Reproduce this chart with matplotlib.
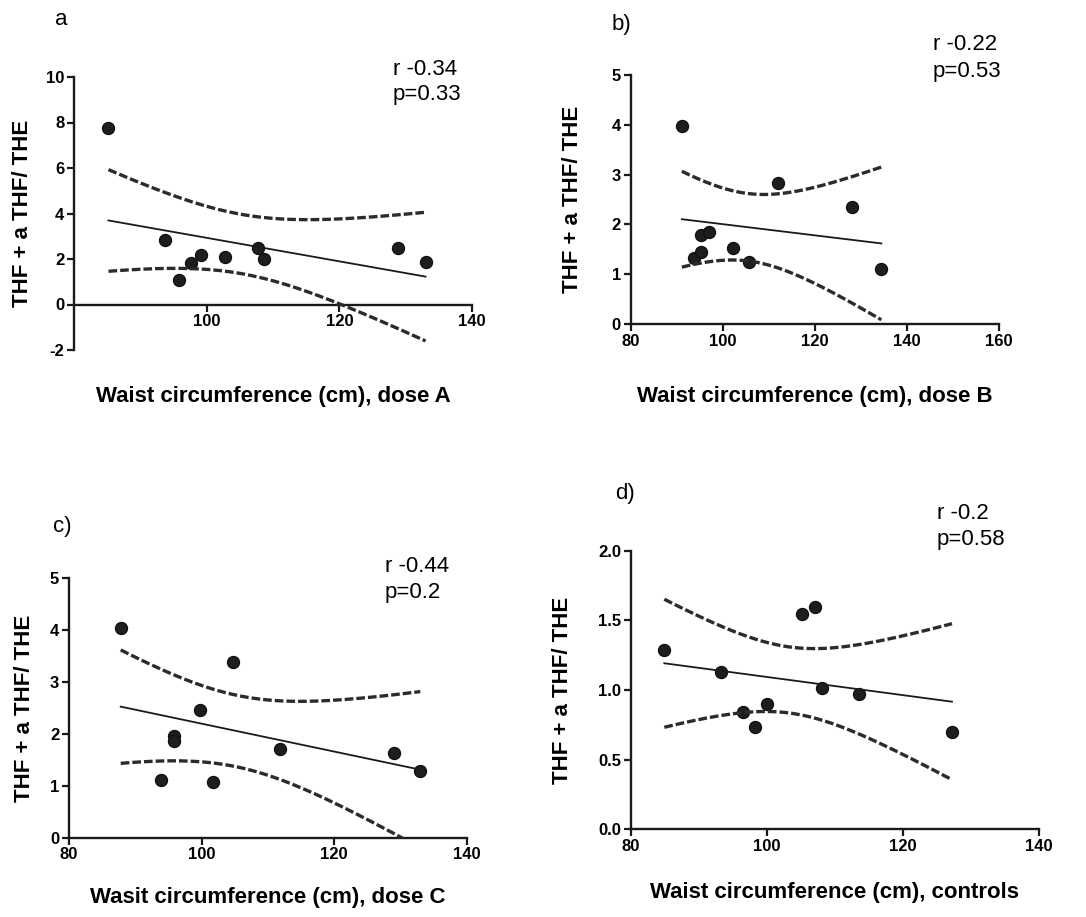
import matplotlib
matplotlib.use("Agg")
import matplotlib.pyplot as plt
import numpy as np

# --- data ---
# a) dose A
xa = [85.2, 93.7, 95.8, 97.7, 99.1, 102.7, 107.7, 108.7, 128.9, 133.0]
ya = [7.77, 2.83, 1.07, 1.83, 2.17, 2.08, 2.49, 1.98, 2.49, 1.88]
# b) dose B
xb = [91.1, 93.8, 95.3, 95.3, 97.0, 102.1, 105.6, 112.0, 128.1, 134.4]
yb = [3.98, 1.32, 1.45, 1.78, 1.85, 1.52, 1.25, 2.84, 2.34, 1.10]
# c) dose C
xc = [87.8, 93.9, 95.8, 95.8, 99.7, 101.8, 104.7, 111.8, 129.0, 133.0]
yc = [4.04, 1.12, 1.96, 1.87, 2.47, 1.08, 3.38, 1.71, 1.63, 1.29]
# d) controls
xd = [84.9, 93.3, 96.4, 98.2, 100.0, 105.1, 107.1, 108.1, 113.5, 127.2]
yd = [1.287, 1.127, 0.840, 0.737, 0.900, 1.543, 1.598, 1.017, 0.969, 0.696]

panel_tags = ["a", "b)", "c)", "d)"]
r_texts = ["r -0.34", "r -0.22", "r -0.44", "r -0.2"]
p_texts = ["p=0.33", "p=0.53", "p=0.2", "p=0.58"]
x_titles = ["Waist circumference (cm), dose A",
            "Waist circumference (cm), dose B",
            "Wasit circumference (cm), dose C",
            "Waist circumference (cm), controls"]
y_title = "THF + a THF/ THE"

T_CRIT = 2.306  # t(0.975, df=8), n = 10 in every panel

W, H = 1086, 917
plt.rcParams["font.family"] = ["Liberation Sans", "DejaVu Sans"]
plt.rcParams["axes.unicode_minus"] = False

fig = plt.figure(figsize=(W / 100, H / 100), dpi=100)


def px_rect(left, top, right, bottom):
    return [left / W, 1 - bottom / H, (right - left) / W, (bottom - top) / H]


def fig_xy(x, y):
    return x / W, 1 - y / H


def fit_band(x, y):
    x = np.asarray(x)
    y = np.asarray(y)
    n = len(x)
    slope, icpt = np.polyfit(x, y, 1)
    grid = np.linspace(x.min(), x.max(), 200)
    resid = y - (icpt + slope * x)
    s = np.sqrt(np.sum(resid ** 2) / (n - 2))
    sxx = np.sum((x - x.mean()) ** 2)
    se = s * np.sqrt(1 / n + (grid - x.mean()) ** 2 / sxx)
    fit = icpt + slope * grid
    return grid, fit, fit - T_CRIT * se, fit + T_CRIT * se


def draw_panel(rect, x, y, xtitle, xlim, xticks, ylim, yticks, ylabels,
               xlab_y, ylab_x, xaxis_at_zero=False):
    ax = fig.add_axes(rect)
    if xaxis_at_zero:
        ax.spines["bottom"].set_position(("data", 0))
    grid, fit, lo, hi = fit_band(x, y)
    ax.plot(x, y, "o", ms=8.6, color="#1e1e1e", mec="#111111", zorder=2)
    ax.plot(grid, fit, color="#1a1a1a", lw=1.3, zorder=3)
    for band in (lo, hi):
        ax.plot(grid, band, color="#2b2b2b", lw=2.4, dashes=(2.6, 0.9), zorder=3)
    ax.set_xlim(*xlim)
    ax.set_ylim(*ylim)
    ax.set_xticks(xticks)
    ax.set_xticklabels([str(t) for t in xticks], fontweight="bold")
    ax.set_yticks(yticks)
    ax.set_yticklabels(ylabels, fontweight="bold")
    for side in ("top", "right"):
        ax.spines[side].set_visible(False)
    for side in ("left", "bottom"):
        ax.spines[side].set_linewidth(1.7)
        ax.spines[side].set_color("#1a1a1a")
    ax.tick_params(length=5, width=1.6, color="#1a1a1a", labelsize=12, pad=2)
    ax.set_xlabel(xtitle, fontsize=16, fontweight="bold", va="baseline")
    ax.xaxis.set_label_coords(0.5, xlab_y)
    ax.set_ylabel(y_title, fontsize=16, fontweight="bold", va="baseline")
    ax.yaxis.set_label_coords(ylab_x, 0.5)
    return ax


# a
draw_panel(px_rect(74, 77, 472, 350), xa, ya, x_titles[0], (80, 140), [100, 120, 140],
           (-2, 10), [-2, 0, 2, 4, 6, 8, 10], ["-2", "0", "2", "4", "6", "8", "10"],
           -0.19, -0.116, xaxis_at_zero=True)

# b
draw_panel(px_rect(630.7, 75, 999.3, 324), xb, yb, x_titles[1], (80, 160),
           [80, 100, 120, 140, 160],
           (0, 5), [0, 1, 2, 3, 4, 5], ["0", "1", "2", "3", "4", "5"],
           -0.313, -0.143)

# c
draw_panel(px_rect(69, 578.3, 466.7, 837.7), xc, yc, x_titles[2], (80, 140),
           [80, 100, 120, 140],
           (0, 5), [0, 1, 2, 3, 4, 5], ["0", "1", "2", "3", "4", "5"],
           -0.252, -0.098)

# d
draw_panel(px_rect(631, 550.7, 1039, 829.3), xd, yd, x_titles[3], (80, 140),
           [80, 100, 120, 140],
           (0, 2), [0, 0.5, 1.0, 1.5, 2.0], ["0.0", "0.5", "1.0", "1.5", "2.0"],
           -0.247, -0.154)

# panel letters and correlation notes (pixel positions of baselines)
tag_pos = [(55, 25), (612, 30), (53, 532), (615, 499)]
r_pos = [(393, 75), (933, 50), (385, 572), (937, 519)]
p_pos = [(393, 100), (933, 77), (385, 598), (937, 545)]
for i in range(4):
    fig.text(*fig_xy(*tag_pos[i]), panel_tags[i], fontsize=16, va="baseline")
    fig.text(*fig_xy(*r_pos[i]), r_texts[i], fontsize=16, va="baseline")
    fig.text(*fig_xy(*p_pos[i]), p_texts[i], fontsize=16, va="baseline")

fig.savefig("out.png", dpi=100)
